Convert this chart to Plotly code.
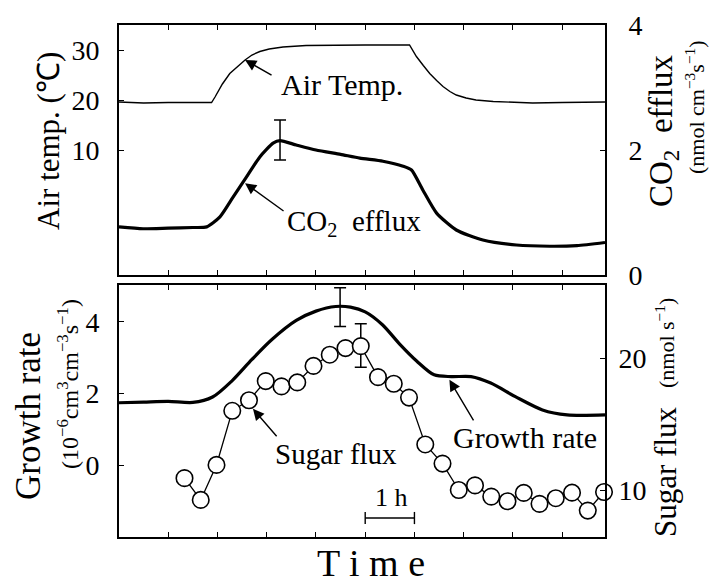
import plotly.graph_objects as go

# ---------------- data ----------------
# top panel: air temperature (°C, left axis)
temp_h = [0, 0.5, 1.0, 1.5, 1.88, 1.95, 2.1, 2.25, 2.4, 2.56, 2.7, 2.86, 3.05, 3.33, 3.8, 4.35,
          5.0, 5.9, 6.04, 6.18, 6.31, 6.45, 6.58, 6.72, 6.85, 7.05, 7.25, 7.6, 8.0, 8.4, 9.0, 9.5, 9.87]
temp_c = [19.6, 19.4, 19.5, 19.5, 19.5, 20.6, 23.2, 25.3, 26.7, 28.0, 29.0, 29.7, 30.2, 30.6, 30.9, 31.0,
          31.0, 31.0, 28.7, 26.9, 25.3, 23.9, 22.7, 21.7, 21.0, 20.4, 20.0, 19.7, 19.5, 19.4, 19.5, 19.6, 19.6]

# top panel: CO2 efflux (nmol cm-3 s-1, right axis)
co2_h = [0, 0.49, 1.0, 1.5, 1.78, 2.05, 2.32, 2.59, 2.86, 3.13, 3.27, 3.6, 4.0, 4.5, 4.89,
         5.36, 5.77, 5.94, 6.17, 6.45, 6.85, 7.39, 8.07, 8.75, 9.3, 9.87]
co2_v = [0.77, 0.74, 0.75, 0.76, 0.77, 0.93, 1.25, 1.57, 1.89, 2.11, 2.15, 2.08, 2.0, 1.93, 1.87,
         1.82, 1.74, 1.68, 1.36, 0.99, 0.72, 0.56, 0.48, 0.46, 0.47, 0.52]
co2_err_h = [3.27]
co2_err_v = [2.16]
co2_err = [0.32]

# bottom panel: growth rate (left axis)
growth_h = [0, 0.5, 1.0, 1.5, 1.9, 2.3, 2.7, 3.1, 3.6, 4.0, 4.4, 4.7, 5.0, 5.35, 5.7,
            6.05, 6.4, 6.75, 7.15, 7.55, 8.05, 8.6, 9.1, 9.87]
growth_v = [1.74, 1.76, 1.78, 1.75, 1.90, 2.36, 2.95, 3.50, 4.04, 4.30, 4.43, 4.41, 4.28, 3.92, 3.38,
            2.90, 2.52, 2.47, 2.47, 2.29, 1.91, 1.54, 1.40, 1.40]
growth_err_h = [4.49]
growth_err_v = [4.41]
growth_err = [0.54]

# bottom panel: sugar flux (nmol s-1, right axis)
sugar_h = [1.33, 1.66, 1.98, 2.30, 2.64, 2.98, 3.30, 3.62, 3.95, 4.28, 4.60, 4.91, 5.26, 5.58,
           5.89, 6.22, 6.57, 6.90, 7.23, 7.56, 7.89, 8.22, 8.54, 8.87, 9.20, 9.52, 9.85]
sugar_v = [10.9, 9.25, 11.9, 16.0, 16.8, 18.25, 17.85, 18.15, 19.4, 20.25, 20.75, 20.9, 18.55, 18.05,
           17.0, 13.45, 12.0, 10.0, 10.35, 9.5, 9.15, 9.78, 8.95, 9.38, 9.8, 8.44, 9.85]
sugar_err_h = [4.91]
sugar_err_v = [20.95]
sugar_err = [1.65]

x_ticks = [1, 2, 3, 4, 5, 6, 7, 8, 9]
temp_ticks = [10, 20, 30]
co2_ticks = [0, 2, 4]
growth_ticks = [0, 2, 4]
sugar_ticks = [10, 20]
scale_bar_h = [5, 6]

# ---------------- layout helpers ----------------
W, H = 710, 585
FONT = "Liberation Serif"


def px(x):
    return x / W


def py(y):
    return 1 - y / H


xdom = [px(119), px(605)]
top_dom = [py(275), py(25)]
bot_dom = [py(537), py(285)]

fig = go.Figure()

fig.add_trace(go.Scatter(x=temp_h, y=temp_c, mode="lines", line=dict(color="black", width=1.4),
                         xaxis="x", yaxis="y", showlegend=False))
fig.add_trace(go.Scatter(x=co2_h, y=co2_v, mode="lines", line=dict(color="black", width=3.2, shape="spline", smoothing=0.6),
                         xaxis="x", yaxis="y2", showlegend=False))
fig.add_trace(go.Scatter(x=co2_err_h, y=co2_err_v, mode="markers", marker=dict(size=1, color="rgba(0,0,0,0)"),
                         error_y=dict(type="data", array=co2_err, color="black", thickness=1.5, width=6),
                         xaxis="x", yaxis="y2", showlegend=False))

fig.add_trace(go.Scatter(x=growth_h, y=growth_v, mode="lines", line=dict(color="black", width=3.2, shape="spline", smoothing=0.8),
                         xaxis="x2", yaxis="y3", showlegend=False))
fig.add_trace(go.Scatter(x=growth_err_h, y=growth_err_v, mode="markers", marker=dict(size=1, color="rgba(0,0,0,0)"),
                         error_y=dict(type="data", array=growth_err, color="black", thickness=1.5, width=6),
                         xaxis="x2", yaxis="y3", showlegend=False))
fig.add_trace(go.Scatter(x=sugar_err_h, y=sugar_err_v, mode="markers", marker=dict(size=1, color="rgba(0,0,0,0)"),
                         error_y=dict(type="data", array=sugar_err, color="black", thickness=1.5, width=6),
                         xaxis="x2", yaxis="y4", showlegend=False))
fig.add_trace(go.Scatter(x=sugar_h, y=sugar_v, mode="lines+markers", line=dict(color="black", width=1.3),
                         marker=dict(symbol="circle", size=16.5, color="white", line=dict(color="black", width=1.6)),
                         xaxis="x2", yaxis="y4", showlegend=False, cliponaxis=False))

tickfont = dict(family=FONT, size=28, color="black")
common_x = dict(domain=xdom, range=[0, 9.87], tickvals=x_ticks, ticks="inside", ticklen=5, tickwidth=1.3,
                tickcolor="black", showticklabels=False, showline=True, linecolor="black", linewidth=1.6,
                mirror="ticks", showgrid=False, zeroline=False, automargin=False)
common_y = dict(ticks="inside", ticklen=5, tickwidth=1.3, tickcolor="black", showline=True, linecolor="black",
                linewidth=1.6, showgrid=False, zeroline=False, tickfont=tickfont, automargin=False)

fig.update_layout(
    width=W, height=H, autosize=False,
    margin=dict(l=0, r=0, t=0, b=0),
    paper_bgcolor="white", plot_bgcolor="white",
    font=dict(family=FONT, color="black"),
    xaxis=dict(anchor="y", **common_x),
    xaxis2=dict(anchor="y3", **common_x),
    yaxis=dict(domain=top_dom, range=[-15, 35], tickvals=temp_ticks, side="left", anchor="x",
               ticklabelstandoff=12, **common_y),
    yaxis2=dict(domain=top_dom, range=[0, 4], tickvals=co2_ticks, side="right", overlaying="y", anchor="x",
                ticklabelstandoff=16, **common_y),
    yaxis3=dict(domain=bot_dom, range=[-2.01, 5.03], tickvals=growth_ticks, side="left", anchor="x2",
                ticklabelstandoff=12, **common_y),
    yaxis4=dict(domain=bot_dom, range=[6.44, 25.53], tickvals=sugar_ticks, side="right", overlaying="y3",
                anchor="x2", ticklabelstandoff=6, **common_y),
)

ann = []


def text_ann(x, y, text, size, xref="paper", yref="paper", angle=0):
    ann.append(dict(x=x, y=y, xref=xref, yref=yref, text=text, showarrow=False, textangle=angle,
                    font=dict(family=FONT, size=size, color="black"), xanchor="center", yanchor="middle"))


def arrow_ann(x, y, xref, yref, ax, ay):
    ann.append(dict(x=x, y=y, xref=xref, yref=yref, text="", showarrow=True, arrowhead=2, arrowsize=1.6,
                    arrowwidth=1.4, arrowcolor="black", ax=ax, ay=ay, standoff=0))


# axis titles
text_ann(px(48), py(141), "Air temp. (℃)", 31, angle=-90)
text_ann(px(28), py(416), "Growth rate", 35, angle=-90)
text_ann(px(68), py(384), "(10<sup>−6</sup>cm<sup>3</sup>cm<sup>−3</sup>s<sup>−1</sup>)", 24, angle=-90)
text_ann(px(663), py(131), "CO<sub>2</sub>  efflux", 33, angle=-90)
text_ann(px(695), py(107), "(nmol cm<sup>−3</sup>s<sup>−1</sup>)", 22, angle=-90)
text_ann(px(665), py(472), "Sugar flux", 31, angle=-90)
text_ann(px(665), py(343), "(nmol s<sup>−1</sup>)", 22, angle=-90)
text_ann(px(371), py(563), "T i m e", 38)

# in-plot labels
text_ann(4.53, 23.0, "Air Temp.", 30, xref="x", yref="y")
text_ann(4.77, 0.83, "CO<sub>2</sub>  efflux", 29, xref="x", yref="y2")
text_ann(4.40, 12.7, "Sugar flux", 29, xref="x2", yref="y4")
text_ann(8.24, 0.78, "Growth rate", 30, xref="x2", yref="y3")
text_ann(5.54, -0.9, "1 h", 26, xref="x2", yref="y3")

# arrows
arrow_ann(2.56, 28.0, "x", "y", 28, 16)
arrow_ann(2.56, 1.47, "x", "y2", 40, 29)
arrow_ann(2.72, 16.15, "x2", "y4", 25, 29)
arrow_ann(6.71, 2.38, "x2", "y3", 25, 42)

fig.update_layout(annotations=ann)

# 1 h scale bar
bar_y = -1.48
fig.add_shape(type="line", xref="x2", yref="y3", x0=scale_bar_h[0], x1=scale_bar_h[1], y0=bar_y, y1=bar_y,
              line=dict(color="black", width=1.4))
for hx in scale_bar_h:
    fig.add_shape(type="line", xref="x2", yref="y3", x0=hx, x1=hx, y0=bar_y - 0.17, y1=bar_y + 0.17,
                  line=dict(color="black", width=1.4))

fig.write_html("out.html", config={"displayModeBar": False},
               post_script="document.body.style.margin='0px';document.body.style.overflow='hidden';")
